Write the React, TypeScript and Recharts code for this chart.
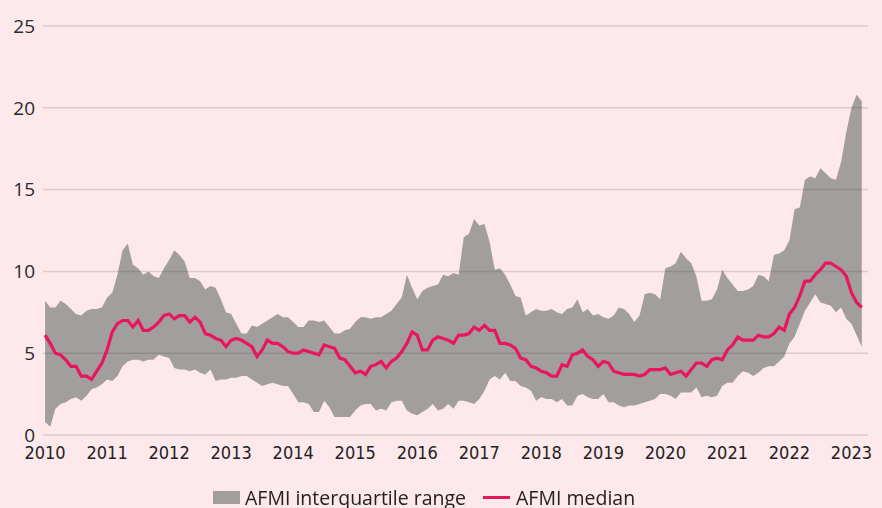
import { ComposedChart, Area, Line, XAxis, YAxis, ReferenceLine } from "recharts";

// monthly, Jan 2010 .. Mar 2023
const firstYear = 2010;
const yearTicks = [0, 12, 24, 36, 48, 60, 72, 84, 96, 108, 120, 132, 144, 156];
const yTicks = [0, 5, 10, 15, 20, 25];

const upperQuartile = [
  8.2, 7.8, 7.8, 8.2, 8.0, 7.7, 7.4, 7.3, 7.6, 7.7, 7.7, 7.8,
  8.4, 8.7, 9.8, 11.3, 11.7, 10.4, 10.2, 9.8, 10.0, 9.7, 9.6, 10.2,
  10.7, 11.3, 11.0, 10.6, 9.6, 9.6, 9.4, 8.9, 9.1, 9.0, 8.3, 7.5,
  7.4, 6.8, 6.2, 6.2, 6.7, 6.6, 6.8, 7.0, 7.2, 7.4, 7.2, 7.2,
  6.9, 6.6, 6.6, 7.0, 7.0, 6.9, 7.0, 6.6, 6.2, 6.2, 6.4, 6.5,
  6.9, 7.2, 7.2, 7.1, 7.2, 7.2, 7.4, 7.6, 8.0, 8.4, 9.8, 9.0,
  8.3, 8.8, 9.0, 9.1, 9.2, 9.8, 9.7, 9.9, 9.8, 12.1, 12.3, 13.2,
  12.8, 12.9, 11.8, 10.1, 10.2, 9.8, 9.2, 8.5, 8.4, 7.3, 7.5, 7.7,
  7.6, 7.6, 7.7, 7.5, 7.4, 7.7, 7.8, 8.3, 7.5, 7.7, 7.3, 7.4,
  7.2, 7.1, 7.3, 7.8, 7.7, 7.4, 6.9, 7.3, 8.6, 8.7, 8.6, 8.3,
  10.2, 10.3, 10.5, 11.2, 10.8, 10.5, 9.7, 8.2, 8.2, 8.3, 8.9, 10.1,
  9.6, 9.2, 8.8, 8.8, 8.9, 9.1, 9.8, 9.7, 9.4, 11.0, 11.1, 11.3,
  11.9, 13.8, 13.9, 15.6, 15.8, 15.7, 16.3, 16.0, 15.7, 15.6, 16.7, 18.5,
  20.0, 20.8, 20.4,
];

const lowerQuartile = [
  0.8, 0.5, 1.6, 1.9, 2.0, 2.2, 2.3, 2.1, 2.4, 2.8, 2.9, 3.1,
  3.4, 3.3, 3.6, 4.2, 4.5, 4.6, 4.6, 4.5, 4.6, 4.6, 4.9, 4.8,
  4.7, 4.1, 4.0, 4.0, 3.9, 4.0, 3.8, 3.7, 4.0, 3.3, 3.4, 3.4,
  3.5, 3.5, 3.6, 3.6, 3.4, 3.2, 3.0, 3.1, 3.2, 3.1, 3.0, 3.0,
  2.5, 2.0, 2.0, 1.9, 1.4, 1.4, 2.1, 1.7, 1.1, 1.1, 1.1, 1.1,
  1.5, 1.8, 1.9, 1.9, 1.5, 1.6, 1.5, 2.0, 2.1, 2.1, 1.5, 1.3,
  1.2, 1.4, 1.6, 1.9, 1.5, 1.6, 1.9, 1.6, 2.1, 2.1, 2.0, 1.9,
  2.2, 2.7, 3.4, 3.6, 3.4, 3.8, 3.3, 3.3, 3.0, 2.9, 2.7, 2.1,
  2.3, 2.2, 2.2, 2.0, 2.2, 1.8, 1.8, 2.4, 2.5, 2.3, 2.2, 2.2,
  2.5, 2.0, 2.0, 1.8, 1.7, 1.8, 1.8, 1.9, 2.0, 2.1, 2.2, 2.5,
  2.5, 2.4, 2.2, 2.6, 2.6, 2.6, 2.9, 2.3, 2.4, 2.3, 2.4, 3.0,
  3.2, 3.2, 3.6, 3.9, 3.8, 3.6, 3.8, 4.1, 4.2, 4.2, 4.5, 4.8,
  5.6, 6.0, 6.8, 7.6, 8.1, 8.6, 8.1, 8.0, 7.9, 7.5, 7.8, 7.1,
  6.8, 6.1, 5.4,
];

const median = [
  6.1, 5.6, 5.0, 4.9, 4.6, 4.2, 4.2, 3.6, 3.6, 3.4, 3.9, 4.4,
  5.2, 6.3, 6.8, 7.0, 7.0, 6.6, 7.0, 6.4, 6.4, 6.6, 6.9, 7.3,
  7.4, 7.1, 7.3, 7.3, 6.9, 7.2, 6.9, 6.2, 6.1, 5.9, 5.8, 5.4,
  5.8, 5.9, 5.8, 5.6, 5.4, 4.8, 5.2, 5.8, 5.6, 5.6, 5.4, 5.1,
  5.0, 5.0, 5.2, 5.1, 5.0, 4.9, 5.5, 5.4, 5.3, 4.7, 4.6, 4.2,
  3.8, 3.9, 3.7, 4.2, 4.3, 4.5, 4.1, 4.5, 4.7, 5.1, 5.6, 6.3,
  6.1, 5.2, 5.2, 5.8, 6.0, 5.9, 5.8, 5.6, 6.1, 6.1, 6.2, 6.6,
  6.4, 6.7, 6.4, 6.4, 5.6, 5.6, 5.5, 5.3, 4.7, 4.6, 4.2, 4.1,
  3.9, 3.8, 3.6, 3.6, 4.3, 4.2, 4.9, 5.0, 5.2, 4.8, 4.6, 4.2,
  4.5, 4.4, 3.9, 3.8, 3.7, 3.7, 3.7, 3.6, 3.7, 4.0, 4.0, 4.0,
  4.1, 3.7, 3.8, 3.9, 3.6, 4.0, 4.4, 4.4, 4.2, 4.6, 4.7, 4.6,
  5.2, 5.5, 6.0, 5.8, 5.8, 5.8, 6.1, 6.0, 6.0, 6.2, 6.6, 6.4,
  7.4, 7.8, 8.5, 9.4, 9.4, 9.8, 10.1, 10.5, 10.5, 10.3, 10.1, 9.7,
  8.7, 8.1, 7.8,
];

const BG = "#fde8eb";
const BAND = "#a39e9e";
const PINK = "#e8175d";

const data = median.map((m, i) => ({
  t: i,
  range: [lowerQuartile[i], upperQuartile[i]],
  median: m,
}));

export default function App() {
  return (
    <div style={{ position: "fixed", left: 0, top: 0, width: 882, height: 508, background: BG }}>
      <ComposedChart width={882} height={508} data={data} margin={{ top: 26, right: 14, left: 0, bottom: 43 }}>
        <XAxis
          dataKey="t"
          type="number"
          domain={[-0.4, 159.2]}
          ticks={yearTicks}
          tickFormatter={(v: number) => String(firstYear + v / 12)}
          axisLine={false}
          tickLine={false}
          tickMargin={5}
          height={30}
          tick={{ fill: "#222", fontSize: 18, fontFamily: "'Liberation Sans Narrow', 'DejaVu Sans Condensed', sans-serif" }}
        />
        <YAxis
          domain={[0, 25]}
          ticks={yTicks}
          axisLine={false}
          tickLine={false}
          width={43}
          tick={{ fill: "#2a2a2a", fontSize: 19, fontFamily: "'Open Sans', sans-serif" }}
        />
        <Area
          dataKey="range"
          stroke="none"
          fill={BAND}
          fillOpacity={1}
          isAnimationActive={false}
        />
        {yTicks.map((v) => (
          <ReferenceLine key={v} y={v} stroke="rgba(48,48,48,0.16)" strokeWidth={1.5} />
        ))}
        <Line
          dataKey="median"
          stroke={PINK}
          strokeWidth={3.2}
          dot={false}
          isAnimationActive={false}
        />
      </ComposedChart>
      <div
        style={{
          position: "absolute",
          left: 213,
          top: 484,
          display: "flex",
          alignItems: "center",
          fontFamily: "'Open Sans', sans-serif",
          fontSize: 19.5,
          color: "#222",
          whiteSpace: "nowrap",
        }}
      >
        <span style={{ width: 27, height: 13, background: BAND, marginRight: 5 }} />
        <span>AFMI interquartile range</span>
        <span style={{ width: 27, height: 3, background: PINK, marginLeft: 17, marginRight: 6 }} />
        <span>AFMI median</span>
      </div>
    </div>
  );
}
